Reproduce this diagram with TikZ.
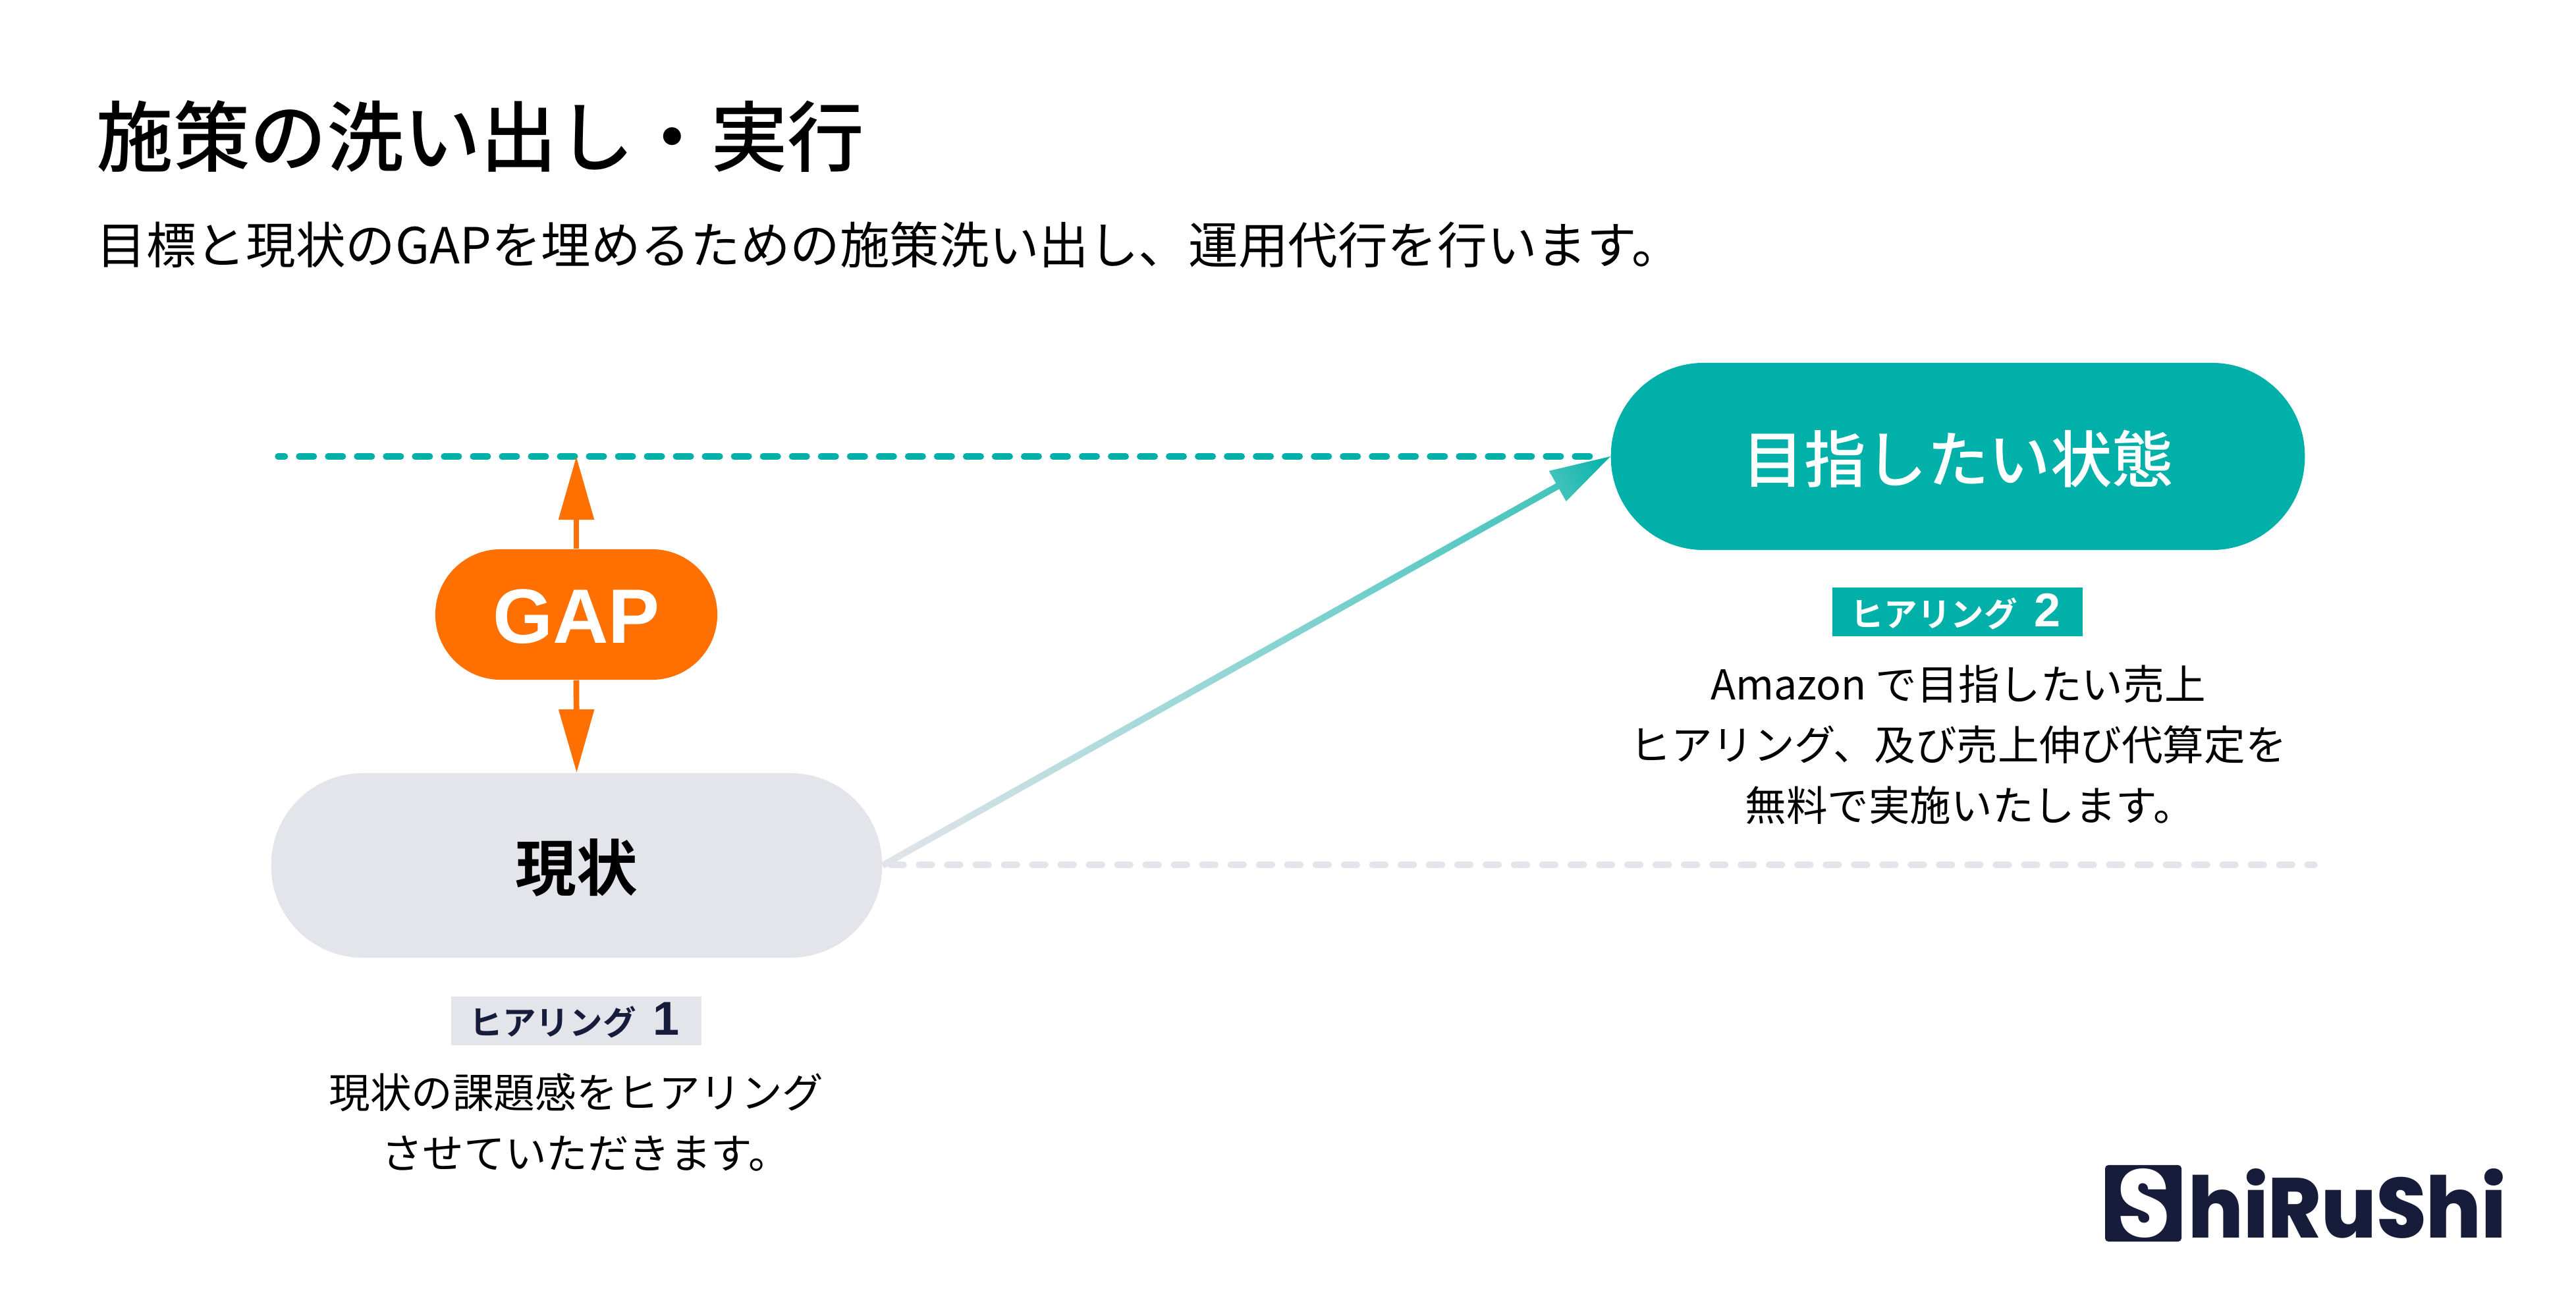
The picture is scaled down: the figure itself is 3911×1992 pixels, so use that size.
\documentclass[tikz,border=0pt]{standalone}
\usepackage{fontspec}
\setmainfont{Noto Sans CJK JP}
\newfontfamily\jpmed{Noto Sans CJK JP}[UprightFont=* Medium]
\newfontfamily\jpbold{Noto Sans CJK JP}[UprightFont=* Bold]
\newfontfamily\latbold{Liberation Sans}[UprightFont=* Bold]
\newfontfamily\logofont{Poppins}[UprightFont=* ExtraBold]
\usetikzlibrary{arrows.meta,calc}
\definecolor{goalteal}{HTML}{00B0A9}
\definecolor{pillgray}{HTML}{E4E4EB}
\definecolor{gaporange}{HTML}{FF7000}
\definecolor{navy}{HTML}{181C3B}
\definecolor{gradmid}{HTML}{8FD5D3}
\definecolor{gradhead}{HTML}{45C4BD}
\pgfdeclarehorizontalshading{arrowgrad}{60bp}{color(0bp)=(pillgray); color(180bp)=(gradmid); color(332bp)=(gradhead); color(361bp)=(goalteal)}
\tikzset{
  lbl/.style={inner sep=0pt,execute at begin node={\rule[-0.12em]{0pt}{1em}}},
  pill/.style={rectangle,inner sep=0pt,rounded corners=#1},
  tagbox/.style={rectangle,inner sep=0pt,minimum width=3.8cm,minimum height=0.74cm},
  bodytext/.style={inner sep=0pt,align=center,text=black,font=\fontsize{17.8}{26.2}\selectfont},
  gaparrow/.style={gaporange,line width=0.087cm,-{Triangle[length=0.96cm,width=0.52cm]}},
  guide/.style={line width=0.095cm,line cap=round},
  taglabel/.style={lbl,font=\jpbold\fontsize{14.4}{16}\selectfont},
}
\newcommand{\tagtext}[1]{ヒアリング\hspace{0.5em}{\latbold\fontsize{20.5}{16}\selectfont #1}}
\begin{document}
\begin{tikzpicture}[x=0.01cm,y=-0.01cm]
\useasboundingbox (0,0) rectangle (3911,1992);
\fill[white] (0,0) rectangle (3911,1992);

% headings
\node[lbl,anchor=west,font=\jpmed\fontsize{33.15}{38}\selectfont] (title) at (146,207) {施策の洗い出し・実行};
\node[lbl,anchor=west,font=\fontsize{21.5}{26}\selectfont] (subtitle) at (146,372) {目標と現状のGAPを埋めるための施策洗い出し、運用代行を行います。};

% guides
\coordinate (tealstart) at (422,693);
\coordinate (tealend) at (2428,693);
\coordinate (graystart) at (1352,1313);
\coordinate (grayend) at (3514,1313);
\draw[guide,goalteal,dash pattern=on 0.225cm off 0.215cm,dash phase=0.12cm] (tealstart) -- (tealend);
\draw[guide,pillgray,dash pattern=on 0.2cm off 0.23cm] (graystart) -- (grayend);

% pills
\node[pill=1.39cm,fill=pillgray,minimum width=9.27cm,minimum height=2.8cm] (cur) at (875.5,1314) {};
\node[lbl,font=\jpbold\fontsize{26.4}{30}\selectfont,text=black] (curtext) at (875,1317) {現状};
\node[pill=1.41cm,fill=goalteal,minimum width=10.53cm,minimum height=2.84cm] (goal) at (2972.5,693) {};
\node[lbl,font=\jpmed\fontsize{26.6}{30}\selectfont,text=white] (goaltext) at (2973,697) {目指したい状態};
\node[pill=0.99cm,fill=gaporange,minimum width=4.28cm,minimum height=1.98cm,text=white,text height=25pt,text depth=0pt,font=\latbold\fontsize{33.3}{36}\selectfont] (gap) at (875,933) {GAP};

% gap arrows
\coordinate (gaptop) at (875,693);
\draw[gaparrow] (gap.north) -- (gaptop);
\draw[gaparrow] (gap.south) -- (cur.north);

% gradient connector
\coordinate (headbase) at ($(goal.west)!0.92cm!(cur.east)$);
\begin{scope}
\clip ($(cur.east)!0.05cm!90:(goal.west)$)
   -- ($(headbase)!0.05cm!90:(goal.west)$)
   -- ($(headbase)!0.265cm!90:(goal.west)$)
   -- (goal.west)
   -- ($(headbase)!0.265cm!-90:(goal.west)$)
   -- ($(headbase)!0.05cm!-90:(goal.west)$)
   -- ($(cur.east)!0.05cm!-90:(goal.west)$) -- cycle;
\path (cur.east) -- node[midway,sloped,inner sep=0pt] (gradbar) {\pgfuseshading{arrowgrad}} (goal.west);
\end{scope}

% tags
\node[tagbox,fill=pillgray,text=navy] (tag1) at (875,1550) {};
\node[taglabel,text=navy] (tag1text) at (872,1550) {\tagtext{1}};
\node[tagbox,fill=goalteal,text=white] (tag2) at (2972,929) {};
\node[taglabel,text=white] (tag2text) at (2969,929) {\tagtext{2}};

% body
\node[bodytext] (body1) at (875,1704) {現状の課題感をヒアリング\\\hspace*{8pt}させていただきます。};
\node[bodytext] (body2) at (2973,1131) {Amazon で目指したい売上\\ヒアリング、及び売上伸び代算定を\\\hspace*{10pt}無料で実施いたします。};

% logo
\node[rectangle,rounded corners=0.05cm,fill=navy,inner sep=0pt,minimum width=1.16cm,minimum height=1.16cm] (logobox) at (3254,1827) {};
\node[inner sep=0pt,text=white] (logoS) at (3254.5,1827) {\resizebox{0.79cm}{1.04cm}{\logofont S}};
\node[inner sep=0pt,text=navy,anchor=west] (logotext) at (3322,1827) {\resizebox{4.82cm}{1.05cm}{\logofont hiRuShi}};
\end{tikzpicture}
\end{document}
